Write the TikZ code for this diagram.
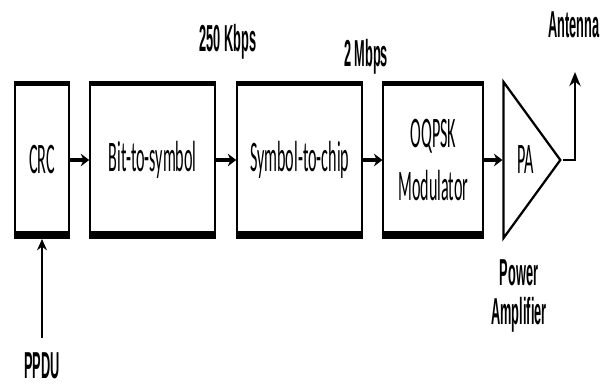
\documentclass[tikz,border=0pt]{standalone}
\usepackage{fontspec}
\usepackage{tikz}
\usetikzlibrary{shapes.geometric,arrows.meta,positioning,calc}
\newfontfamily\boxfont[FakeStretch=0.37]{Carlito}
\newfontfamily\labfont[FakeStretch=0.34]{Liberation Sans}
\tikzset{
  block/.style  = {rectangle, draw, line width=1.4pt, inner sep=0pt,
                   minimum height=3.9cm, align=center,
                   font=\boxfont\fontsize{31}{37}\selectfont,
                   path picture={
                     \fill (path picture bounding box.north west) rectangle
                           ([yshift=-3pt]path picture bounding box.north east);
                     \fill ([yshift=5pt]path picture bounding box.south west) rectangle
                           (path picture bounding box.south east);}},
  amp/.style    = {isosceles triangle, isosceles triangle stretches, draw,
                   line width=1.6pt, inner sep=0pt, minimum height=1.42cm,
                   minimum width=3.9cm, font=\boxfont\fontsize{31}{37}\selectfont},
  lab/.style    = {font=\labfont\bfseries\fontsize{26.7}{28}\selectfont,
                   align=center, inner sep=2pt},
  arr/.style    = {-{Stealth[length=6pt,width=9pt]}, line width=2.5pt},
  inarr/.style  = {-{Stealth[length=8pt,width=7pt]}, line width=1.5pt},
  antarr/.style = {-{Stealth[length=10pt,width=8pt]}, line width=2pt},
}
\begin{document}
\begin{tikzpicture}[x=0.025cm, y=-0.025cm]
\useasboundingbox (0,0) rectangle (612,389);

%% ── Blocks ────────────────────────────────────────────────────────────────
\node[block, minimum width=1.35cm] (crc) at (42,160) {CRC};
\node[block, minimum width=3.125cm, right=0.48cm of crc] (bts) {Bit-to-symbol};
\node[block, minimum width=3.125cm, right=0.5cm of bts]  (stc) {Symbol-to-chip};
\node[block, minimum width=2.5cm, right=0.48cm of stc]   (mod) {OQPSK\\Modulator};
\node[amp, right=0.45cm of mod] (pa) {PA};

%% ── Labels ────────────────────────────────────────────────────────────────
\node[lab] (rate1) at (228,42)  {250 Kbps};
\node[lab] (rate2) at (366,57)  {2 Mbps};
\node[lab] (antl)  at (574,25)  {Antenna};
\node[lab] (pal)   at (519,296) {Power\\Amplifier};
\node[lab] (ppdu)  at (42,366)  {PPDU};
\coordinate (ant) at (575,72);

%% ── Arrows ────────────────────────────────────────────────────────────────
\draw[inarr, shorten <=0.3cm] (ppdu) -- (crc);
\draw[arr] (crc) -- (bts);
\draw[arr] (bts) -- (stc);
\draw[arr] (stc) -- (mod);
\draw[arr] (mod) -- (mod.east -| pa.west);
\draw[antarr] (pa.apex) -| (ant);

\end{tikzpicture}
\end{document}
